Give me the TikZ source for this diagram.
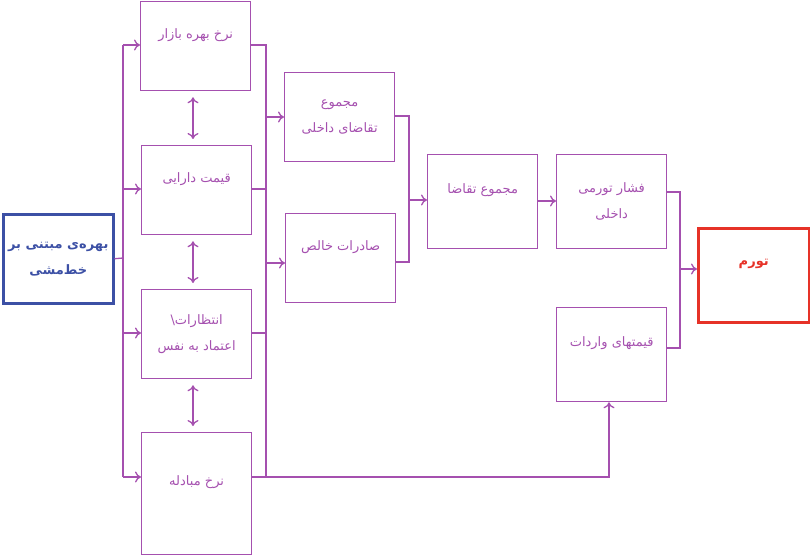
\documentclass[tikz,border=0pt]{standalone}
\usepackage{fontspec}
\usetikzlibrary{arrows.meta}
\newfontfamily\arabicfont[Script=Arabic]{DejaVu Sans}
\TeXXeTstate=1
\definecolor{pur}{RGB}{165,80,175}
\definecolor{bl}{RGB}{60,80,165}
\definecolor{rd}{RGB}{230,50,40}
\newcommand{\R}[1]{\beginR #1\endR}
\begin{document}
\begin{tikzpicture}[x=1pt,y=-1pt,
  bx/.style={draw=pur,line width=1.3pt,text=pur,minimum width=110pt,minimum height=89pt,font=\arabicfont\fontsize{13}{26}\selectfont,align=center,anchor=north west,inner sep=0pt},
  ln/.style={draw=pur,line width=1.3pt},
  ar/.style={ln,-{To[length=6pt,width=11pt]}},
  dar/.style={ln,{To[length=6pt,width=11pt]}-{To[length=6pt,width=11pt]}}]
\useasboundingbox (0,0) rectangle (810,556);
\node[bx,draw=bl,line width=2.5pt,text=bl,font=\arabicfont\bfseries\fontsize{13}{26}\selectfont] (p) at (2,213) {\R{بهره‌ی مبتنی بر}\\\R{خط‌مشی}};
\node[bx] (a1) at (140,1) {\R{نرخ بهره بازار}\\\phantom{x}};
\node[bx] (a2) at (141,145) {\R{قیمت دارایی}\\\phantom{x}};
\node[bx] (a3) at (141,289) {\R{انتظارات\textbackslash}\\\R{اعتماد به نفس}};
\node[bx,minimum height=122pt] (a4) at (141,432) {\R{نرخ مبادله}\\\phantom{x}};
\node[bx] (b1) at (284,72) {\R{مجموع}\\\R{تقاضای داخلی}};
\node[bx] (b2) at (285,213) {\R{صادرات خالص}\\\phantom{x}};
\node[bx,minimum height=94pt] (c) at (427,154) {\R{مجموع تقاضا}\\\phantom{x}};
\node[bx,minimum height=94pt] (d) at (556,154) {\R{فشار تورمی}\\\R{داخلی}};
\node[bx,minimum height=94pt] (e) at (556,307) {\R{قیمتهای واردات}\\\phantom{x}};
\node[bx,draw=rd,line width=2.5pt,text=rd,minimum width=111pt,minimum height=94pt,font=\arabicfont\bfseries\fontsize{13}{26}\selectfont] (t) at (697,227) {\R{تورم}\\\phantom{x}};
% left bus
\coordinate (lb) at (123,258);
\draw[ln] (p.east) -- (lb);
\draw[ln] (123,45) -- (123,477);
\draw[ar] (123,45) -- (a1.west|-0,45);
\draw[ar] (123,189) -- (a2.west|-0,189);
\draw[ar] (123,333) -- (a3.west|-0,333);
\draw[ar] (123,477) -- (a4.west|-0,477);
% double arrows
\draw[dar] ([yshift=-6pt]a1.south-|193,0) -- ([yshift=6pt]a2.north-|193,0);
\draw[dar] ([yshift=-6pt]a2.south-|193,0) -- ([yshift=6pt]a3.north-|193,0);
\draw[dar] ([yshift=-6pt]a3.south-|193,0) -- ([yshift=6pt]a4.north-|193,0);
% right bus
\draw[ln] (a1.east|-0,45) -- (266,45) -- (266,477);
\draw[ln] (a2.east|-0,189) -- (266,189);
\draw[ln] (a3.east|-0,333) -- (266,333);
\draw[ln] (a4.east|-0,477) -- (266,477);
\draw[ar] (266,117) -- (b1.west|-0,117);
\draw[ar] (266,263) -- (b2.west|-0,263);
\draw[ar] (266,477) -- (609,477) -- (e.south-|609,0);
% b bus
\draw[ln] (b1.east|-0,116) -- (409,116) -- (409,262) -- (b2.east|-0,262);
\draw[ar] (409,200) -- (c.west|-0,200);
\draw[ar] (c.east|-0,201) -- (d.west|-0,201);
% d/e bus
\draw[ln] (d.east|-0,192) -- (680,192) -- (680,348) -- (e.east|-0,348);
\draw[ar] (680,269) -- (t.west|-0,269);
\end{tikzpicture}
\end{document}
